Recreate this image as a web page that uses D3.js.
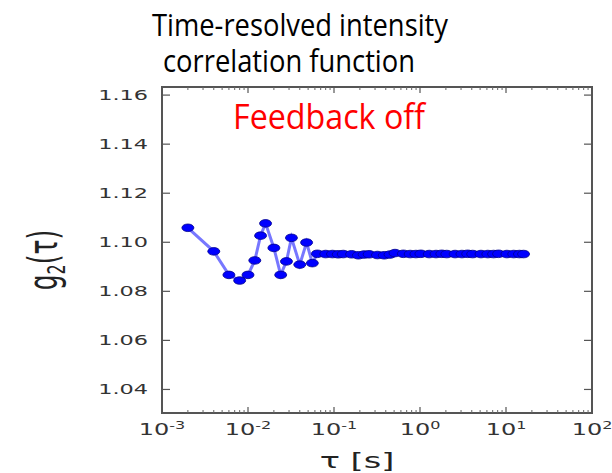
<!DOCTYPE html>
<html>
<head>
<meta charset="utf-8">
<script src="https://cdn.jsdelivr.net/npm/d3@7"></script>
<style>
  body { margin: 0; background: #fff; }
</style>
</head>
<body>
<div class="canvas"></div>
<script>
// lag times (s) and g2 values
const tau = [
  0.002, 0.004, 0.006, 0.008, 0.010, 0.012, 0.014, 0.016, 0.020, 0.024,
  0.028, 0.032, 0.040, 0.048, 0.056, 0.064, 0.080, 0.096, 0.112, 0.128,
  0.160, 0.192, 0.224, 0.256, 0.320, 0.384, 0.448, 0.512, 0.640, 0.768,
  0.896, 1.024, 1.28, 1.536, 1.792, 2.048, 2.56, 3.072, 3.584, 4.096,
  5.12, 6.144, 7.168, 8.192, 10.24, 12.288, 14.336, 16.0
];
const g2 = [
  1.1059, 1.0963, 1.0867, 1.0844, 1.0867, 1.0926, 1.1027, 1.1077, 1.0977, 1.0867,
  1.0922, 1.1018, 1.0909, 1.0999, 1.0915, 1.0953, 1.0952, 1.0952, 1.0951, 1.0952,
  1.0951, 1.0947, 1.0950, 1.0951, 1.0948, 1.0947, 1.0950, 1.0956, 1.0953, 1.0952,
  1.0952, 1.0953, 1.0952, 1.0952, 1.0953, 1.0952, 1.0952, 1.0952, 1.0953, 1.0952,
  1.0952, 1.0952, 1.0952, 1.0953, 1.0952, 1.0952, 1.0952, 1.0952
];
const yTicks = [1.04, 1.06, 1.08, 1.10, 1.12, 1.14, 1.16];
const xTicks = [1e-3, 1e-2, 1e-1, 1e0, 1e1, 1e2];

const width = 612;
const height = 473;
const plot = { left: 162, right: 592, top: 87, bottom: 413 };
const stretch = 1.6; // the figure is squeezed wide

const svg = d3
  .select(".canvas")
  .append("svg")
  .attr("width", width)
  .attr("height", height);

const xScale = d3.scaleLog().domain([1e-3, 1e2]).range([plot.left, plot.right]);
const yScale = d3.scaleLinear().domain([1.0304, 1.1633]).range([plot.bottom, plot.top]);

// title (two lines)
svg.append("text")
  .text("Time-resolved intensity")
  .attr("x", 300).attr("y", 36)
  .attr("text-anchor", "middle")
  .attr("font-family", "Open Sans")
  .attr("font-size", 31)
  .attr("textLength", 296)
  .attr("lengthAdjust", "spacingAndGlyphs")
  .attr("fill", "#000");

svg.append("text")
  .text("correlation function")
  .attr("x", 289).attr("y", 72)
  .attr("text-anchor", "middle")
  .attr("font-family", "Open Sans")
  .attr("font-size", 31)
  .attr("textLength", 252)
  .attr("lengthAdjust", "spacingAndGlyphs")
  .attr("fill", "#000");

// frame
svg.append("rect")
  .attr("x", plot.left)
  .attr("y", plot.top)
  .attr("width", plot.right - plot.left)
  .attr("height", plot.bottom - plot.top)
  .attr("fill", "white")
  .attr("stroke", "#555")
  .attr("stroke-width", 2);

// y ticks, both sides, pointing inside
yTicks.forEach((t) => {
  const y = yScale(t);
  svg.append("line")
    .attr("x1", plot.left).attr("x2", plot.left + 8)
    .attr("y1", y).attr("y2", y)
    .attr("stroke", "#555").attr("stroke-width", 1.2);
  svg.append("line")
    .attr("x1", plot.right - 8).attr("x2", plot.right)
    .attr("y1", y).attr("y2", y)
    .attr("stroke", "#555").attr("stroke-width", 1.2);
  svg.append("text")
    .text(t.toFixed(2))
    .attr("transform", `translate(148,${y + 5}) scale(${stretch},1)`)
    .attr("text-anchor", "end")
    .attr("font-family", "DejaVu Sans")
    .attr("font-size", 14)
    .attr("fill", "#333");
});

// x ticks: major decades + minor ones
const minor = [];
for (let e = -3; e < 2; e++) {
  for (let m = 2; m <= 9; m++) minor.push(m * Math.pow(10, e));
}
minor.forEach((t) => {
  const x = xScale(t);
  svg.append("line")
    .attr("x1", x).attr("x2", x)
    .attr("y1", plot.bottom).attr("y2", plot.bottom - 3)
    .attr("stroke", "#666").attr("stroke-width", 1);
  svg.append("line")
    .attr("x1", x).attr("x2", x)
    .attr("y1", plot.top).attr("y2", plot.top + 3)
    .attr("stroke", "#666").attr("stroke-width", 1);
});
xTicks.forEach((t) => {
  const x = xScale(t);
  svg.append("line")
    .attr("x1", x).attr("x2", x)
    .attr("y1", plot.bottom).attr("y2", plot.bottom - 6)
    .attr("stroke", "#555").attr("stroke-width", 1.2);
  svg.append("line")
    .attr("x1", x).attr("x2", x)
    .attr("y1", plot.top).attr("y2", plot.top + 6)
    .attr("stroke", "#555").attr("stroke-width", 1.2);
  const lbl = svg.append("text")
    .attr("transform", `translate(${x},435) scale(${stretch},1)`)
    .attr("text-anchor", "middle")
    .attr("font-family", "DejaVu Sans")
    .attr("font-size", 15)
    .attr("fill", "#333");
  lbl.append("tspan").text("10");
  lbl.append("tspan")
    .text(Math.round(Math.log10(t)))
    .attr("dy", -6)
    .attr("font-size", 10);
});

// axis labels
const yl = svg.append("text")
  .attr("transform", `translate(57,260) scale(${stretch},1) rotate(-90)`)
  .attr("text-anchor", "middle")
  .attr("font-family", "DejaVu Sans")
  .attr("font-size", 25)
  .attr("fill", "#222");
yl.append("tspan").text("g");
yl.append("tspan").text("2").attr("font-size", 16).attr("dy", 5);
yl.append("tspan").text("(τ)").attr("dy", -5);

svg.append("text")
  .text("τ [s]")
  .attr("transform", `translate(357,468) scale(${stretch},1)`)
  .attr("text-anchor", "middle")
  .attr("font-family", "DejaVu Sans")
  .attr("font-size", 21)
  .attr("fill", "#222");

// annotation
svg.append("text")
  .text("Feedback off")
  .attr("x", 233).attr("y", 129)
  .attr("font-family", "Open Sans")
  .attr("font-size", 35)
  .attr("textLength", 192)
  .attr("lengthAdjust", "spacingAndGlyphs")
  .attr("fill", "#ff0000");

// data
const points = tau.map((t, i) => ({ t: t, v: g2[i] }));

const line = d3.line()
  .x((d) => xScale(d.t))
  .y((d) => yScale(d.v));

svg.append("path")
  .datum(points)
  .attr("d", line)
  .attr("fill", "none")
  .attr("stroke", "#4a4aff")
  .attr("stroke-opacity", 0.75)
  .attr("stroke-width", 3);

svg.selectAll("ellipse.pt")
  .data(points)
  .enter()
  .append("ellipse")
  .attr("class", "pt")
  .attr("cx", (d) => xScale(d.t))
  .attr("cy", (d) => yScale(d.v))
  .attr("rx", 6)
  .attr("ry", 3.8)
  .attr("fill", "#0000ff")
  .attr("stroke", "#00008b")
  .attr("stroke-width", 0.8);
</script>
</body>
</html>
